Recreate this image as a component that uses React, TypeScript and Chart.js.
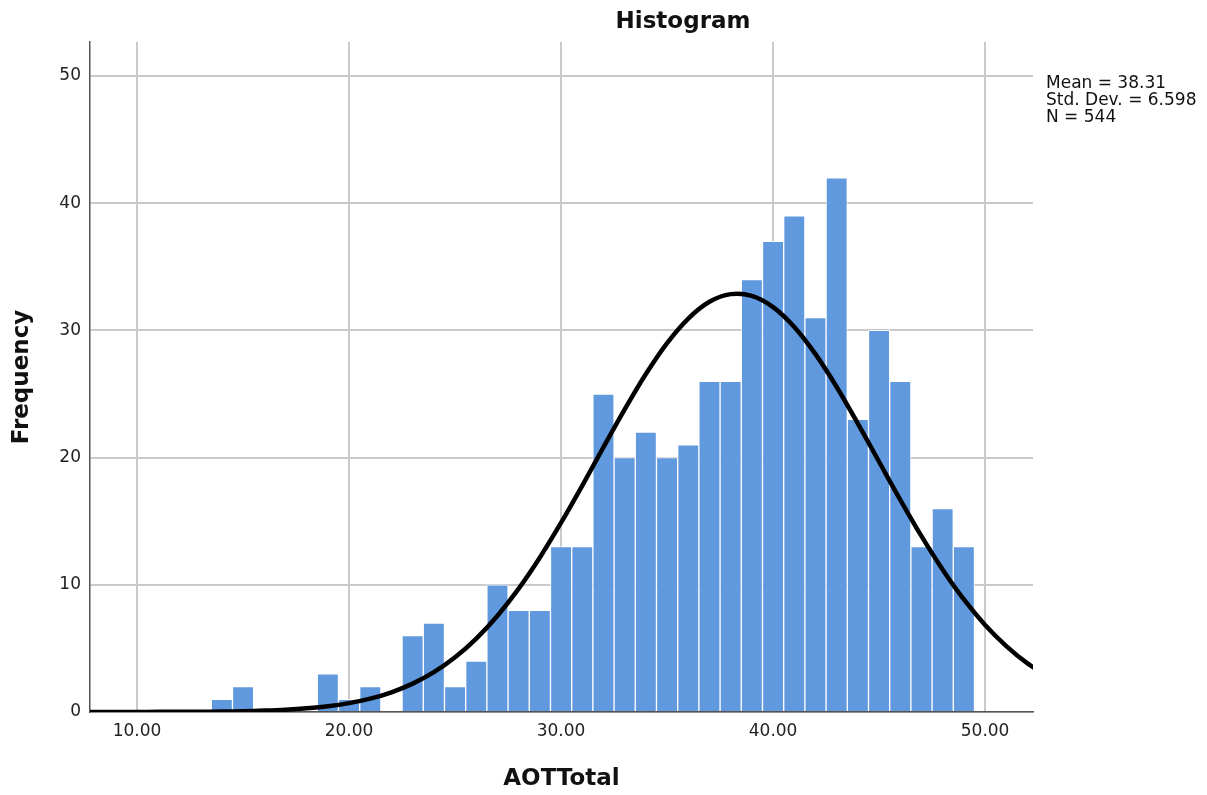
import React, { useEffect, useRef } from "react";
import { Chart, registerables } from "chart.js";

Chart.register(...registerables);

// Histogram bins (bin centres) and frequencies
const binCenters = [14, 15, 16, 17, 18, 19, 20, 21, 22, 23, 24, 25, 26, 27, 28, 29, 30, 31, 32, 33, 34, 35, 36, 37, 38, 39, 40, 41, 42, 43, 44, 45, 46, 47, 48, 49];
const frequencies = [1, 2, 0, 0, 0, 3, 1, 2, 0, 6, 7, 2, 4, 10, 8, 8, 13, 13, 25, 20, 22, 20, 21, 26, 26, 34, 37, 39, 31, 42, 23, 30, 26, 13, 16, 13];

// Normal curve
const curveX = [7, 8, 9, 10, 11, 12, 13, 14, 15, 16, 17, 18, 19, 20, 21, 22, 23, 24, 25, 26, 27, 28, 29, 30, 31, 32, 33, 34, 35, 36, 37, 38, 39, 40, 41, 42, 43, 44, 45, 46, 47, 48, 49, 50, 51, 52, 53];
const curveY = [0.0, 0.0, 0.0, 0.0, 0.01, 0.01, 0.02, 0.04, 0.06, 0.11, 0.18, 0.29, 0.45, 0.70, 1.05, 1.55, 2.23, 3.13, 4.30, 5.77, 7.57, 9.70, 12.15, 14.88, 17.80, 20.82, 23.79, 26.57, 29.0, 30.93, 32.25, 32.85, 32.71, 31.83, 30.27, 28.13, 25.55, 22.67, 19.67, 16.68, 13.82, 11.19, 8.85, 6.84, 5.18, 3.82, 2.76];

const xTicks = [10, 20, 30, 40, 50];
const yTicks = [0, 10, 20, 30, 40, 50];

const titleText = "Histogram";
const xTitle = "AOTTotal";
const yTitle = "Frequency";
const statsLines = ["Mean = 38.31", "Std. Dev. = 6.598", "N = 544"];

export default function App() {
  const ref = useRef<HTMLCanvasElement>(null);

  useEffect(() => {
    if (!ref.current) return;
    const textPlugin = {
      id: "texts",
      afterDraw(chart: any) {
        const ctx = chart.ctx;
        const area = chart.chartArea;
        ctx.save();
        ctx.fillStyle = "#111";
        ctx.font = "bold 23px 'DejaVu Sans'";
        ctx.textAlign = "center";
        ctx.textBaseline = "alphabetic";
        ctx.fillText(titleText, 683, 28);
        ctx.fillText(xTitle, (area.left + area.right) / 2, 785);
        ctx.save();
        ctx.translate(28, (area.top + area.bottom) / 2);
        ctx.rotate(-Math.PI / 2);
        ctx.fillText(yTitle, 0, 0);
        ctx.restore();
        ctx.font = "17px 'DejaVu Sans'";
        ctx.textAlign = "left";
        statsLines.forEach((s, i) => ctx.fillText(s, 1046, 88 + i * 17));
        ctx.restore();
      },
    };

    const chart = new Chart(ref.current, {
      type: "bar",
      data: {
        datasets: [
          {
            type: "line",
            data: curveX.map((x, i) => ({ x, y: curveY[i] })),
            borderColor: "#000",
            borderWidth: 4.5,
            pointRadius: 0,
            tension: 0.3,
            order: 0,
          } as any,
          {
            type: "bar",
            data: binCenters.map((x, i) => ({ x, y: frequencies[i] })),
            backgroundColor: "#6199df",
            borderColor: "rgba(255,255,255,0.75)",
            borderWidth: 1,
            borderSkipped: "start",
            barPercentage: 1,
            categoryPercentage: 1,
            order: 1,
          } as any,
        ],
      },
      options: {
        animation: false,
        responsive: false,
        events: [],
        layout: { padding: { top: 42, right: 174, left: 0, bottom: 0 } },
        plugins: { legend: { display: false }, tooltip: { enabled: false }, title: { display: false } },
        scales: {
          x: {
            type: "linear",
            min: 7.78,
            max: 52.26,
            offset: false,
            afterBuildTicks: (s: any) => {
              s.ticks = xTicks.map((v) => ({ value: v }));
            },
            afterFit: (s: any) => {
              s.height = 83;
            },
            grid: { color: "#cacaca", lineWidth: 2, drawTicks: false, offset: false },
            border: { display: true, color: "#555", width: 1.5 },
            ticks: {
              padding: 9,
              color: "#222",
              font: { family: "'DejaVu Sans'", size: 17 },
              maxRotation: 0,
              callback: (v: any) => Number(v).toFixed(2),
            },
          },
          y: {
            min: 0,
            max: 52.67,
            afterBuildTicks: (s: any) => {
              s.ticks = yTicks.map((v) => ({ value: v }));
            },
            afterFit: (s: any) => {
              s.width = 90;
            },
            grid: { color: "#cacaca", lineWidth: 2, drawTicks: false },
            border: { display: true, color: "#555", width: 1.5 },
            ticks: {
              padding: 9,
              color: "#222",
              font: { family: "'DejaVu Sans'", size: 17 },
              callback: (v: any) => String(v),
            },
          },
        },
      },
      plugins: [textPlugin],
    });
    return () => chart.destroy();
  }, []);

  return (
    <div style={{ position: "fixed", left: 0, top: 0, width: 1207, height: 795, background: "#fff" }}>
      <canvas ref={ref} width={1207} height={795} style={{ width: 1207, height: 795 }} />
    </div>
  );
}
